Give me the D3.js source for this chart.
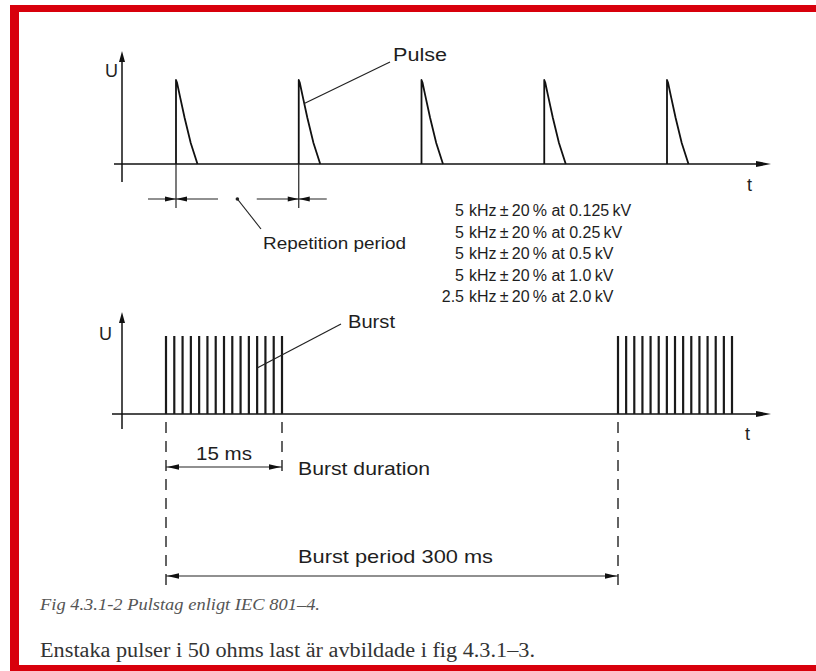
<!DOCTYPE html>
<html>
<head>
<meta charset="utf-8">
<script src="https://d3js.org/d3.v7.min.js"></script>
<style>
  body { margin: 0; background: #fff; }
  text { font-family: "Liberation Sans", Arial, sans-serif; fill: #1e1e1e; }
  .axis { stroke: #111; stroke-width: 1.5px; fill: none; }
  .pulse { stroke: #111; stroke-width: 1.8px; fill: none; stroke-linejoin: round; }
  .burst { stroke: #1a1a1a; stroke-width: 2.2px; }
  .thin { stroke: #222; stroke-width: 1.2px; fill: none; }
  .dash { stroke: #222; stroke-width: 1.4px; stroke-dasharray: 11 8; }
  .serif { font-family: "Liberation Serif", "Times New Roman", serif; }
</style>
</head>
<body>
<script>
// top diagram: pulse number and the shape of one pulse (fraction of period, relative amplitude)
var pulseIndex = [0, 1, 2, 3, 4];
var pulseShape = [[0, 0], [0, 1], [0.008, 0.97], [0.03, 0.82], [0.07, 0.55], [0.12, 0.25], [0.175, 0]];

// bottom diagram, in ms (drawn with a broken time axis)
var burstStarts = [0, 300];
var burstDuration = 15;
var burstPeriod = 300;
var burstPulseCount = 15;

// repetition frequency table
var freqKHz = ["5", "5", "5", "5", "2.5"];
var levelKV = ["0.125", "0.25", "0.5", "1.0", "2.0"];
var tolerance = 20;

var width = 816, height = 671;
var red = "#d8000c";

var svg = d3.select("body").append("svg")
    .attr("width", width)
    .attr("height", height);

// red frame (open on the right side, like the scan)
svg.append("rect").attr("x", 10).attr("y", 5).attr("width", 806).attr("height", 7).attr("fill", red);
svg.append("rect").attr("x", 10).attr("y", 5).attr("width", 9).attr("height", 666).attr("fill", red);
svg.append("rect").attr("x", 10).attr("y", 665).attr("width", 806).attr("height", 6).attr("fill", red);

function arrowHead(g, x, y, dir, len, w) {
    // dir: "up", "right", "left"
    var pts;
    if (dir === "up") pts = [[x, y], [x - w, y + len], [x + w, y + len]];
    else if (dir === "right") pts = [[x, y], [x - len, y - w], [x - len, y + w]];
    else pts = [[x, y], [x + len, y - w], [x + len, y + w]];
    g.append("polygon").attr("points", pts.join(" ")).attr("fill", "#111");
}

// label helper, the scanned lettering is wide so fit it to a width
function label(g, x, y, size, txt, len, anchor) {
    var t = g.append("text").attr("x", x).attr("y", y)
        .style("font-size", size + "px").text(txt);
    if (len) t.attr("textLength", len).attr("lengthAdjust", "spacingAndGlyphs");
    if (anchor) t.attr("text-anchor", anchor);
    return t;
}

// ---------------- top: single pulses ----------------
var x1 = d3.scaleLinear().domain([0, 4]).range([176, 667]);
var y1 = d3.scaleLinear().domain([0, 1]).range([164, 80]);
var topG = svg.append("g");

var origin1 = x1.invert(122);
topG.append("line").attr("class", "axis")
    .attr("x1", x1(origin1)).attr("x2", x1(origin1))
    .attr("y1", 182).attr("y2", 58);
arrowHead(topG, x1(origin1), 51, "up", 11, 3);
topG.append("line").attr("class", "axis")
    .attr("x1", 114).attr("x2", 758)
    .attr("y1", y1(0)).attr("y2", y1(0));
arrowHead(topG, 771, y1(0), "right", 15, 3);

var pulseLine = d3.line();
topG.selectAll("path.pulse")
    .data(pulseIndex)
    .enter().append("path")
    .attr("class", "pulse")
    .attr("d", function (i) {
        return pulseLine(pulseShape.map(function (p) { return [x1(i + p[0]), y1(p[1])]; }));
    });

label(topG, 105, 77, 18, "U");
label(topG, 747, 191, 18, "t");

// Pulse label and leader
label(topG, 393, 61, 18, "Pulse", 54);
topG.append("line").attr("class", "thin")
    .attr("x1", 390).attr("y1", 62).attr("x2", x1(1.045)).attr("y2", y1(0.72));

// repetition period dimension
var dimY = 199;
[0, 1].forEach(function (i) {
    var x = x1(i);
    topG.append("line").attr("class", "thin").attr("x1", x).attr("x2", x).attr("y1", y1(0)).attr("y2", 208);
    var inner = 42, outer = 28;
    var a = i === 0 ? x - outer : x - inner;
    var b = i === 0 ? x + inner : x + outer;
    topG.append("line").attr("class", "thin").attr("x1", a).attr("x2", b).attr("y1", dimY).attr("y2", dimY);
    arrowHead(topG, x, dimY, "right", 11, 2.6);
    arrowHead(topG, x, dimY, "left", 11, 2.6);
});
var dotX = x1(0.5);
topG.append("circle").attr("cx", dotX).attr("cy", dimY).attr("r", 1.8).attr("fill", "#222");
topG.append("line").attr("class", "thin")
    .attr("x1", dotX).attr("y1", dimY).attr("x2", 261).attr("y2", 229);
label(topG, 263, 249, 17, "Repetition period", 143);

// frequency table
var tableY = d3.scalePoint().domain(d3.range(freqKHz.length)).range([216, 302]);
var table = topG.append("g").style("font-size", "16px");
table.selectAll("text.num")
    .data(freqKHz)
    .enter().append("text")
    .attr("class", "num")
    .attr("x", 464)
    .attr("y", function (d, i) { return tableY(i); })
    .attr("text-anchor", "end")
    .text(function (d) { return d; });
table.selectAll("text.rest")
    .data(levelKV)
    .enter().append("text")
    .attr("class", "rest")
    .attr("x", 469)
    .attr("y", function (d, i) { return tableY(i); })
    .text(function (d) { return "kHz\u2009\u00b1\u2009" + tolerance + "\u2009% at " + d + "\u2009kV"; });

// ---------------- bottom: bursts ----------------
var x2 = d3.scaleLinear()
    .domain([0, burstDuration, burstPeriod, burstPeriod + burstDuration])
    .range([166, 282, 618, 732]);
var y2 = d3.scaleLinear().domain([0, 1]).range([414, 336]);
var bot = svg.append("g");

bot.append("line").attr("class", "axis")
    .attr("x1", 122).attr("x2", 122)
    .attr("y1", 429).attr("y2", 319);
arrowHead(bot, 122, 312, "up", 11, 3);
bot.append("line").attr("class", "axis")
    .attr("x1", 112).attr("x2", 758)
    .attr("y1", y2(0)).attr("y2", y2(0));
arrowHead(bot, 771, y2(0), "right", 15, 3);

var burstTimes = [];
burstStarts.forEach(function (s) {
    d3.range(burstPulseCount).forEach(function (k) {
        burstTimes.push(s + k * burstDuration / (burstPulseCount - 1));
    });
});
bot.selectAll("line.burst")
    .data(burstTimes)
    .enter().append("line")
    .attr("class", "burst")
    .attr("x1", function (d) { return x2(d); })
    .attr("x2", function (d) { return x2(d); })
    .attr("y1", y2(0))
    .attr("y2", y2(1));

label(bot, 99, 340, 18, "U");
label(bot, 745, 440, 18, "t");

label(bot, 348, 328, 19, "Burst", 47);
var leaderT = 11 * burstDuration / (burstPulseCount - 1);
bot.append("line").attr("class", "thin")
    .attr("x1", 341).attr("y1", 324).attr("x2", x2(leaderT)).attr("y2", y2(0.59));

// dashed extension lines
var ext = [[0, 592], [burstDuration, 472], [burstPeriod, 592]];
bot.selectAll("line.dash")
    .data(ext)
    .enter().append("line")
    .attr("class", "dash")
    .attr("x1", function (d) { return x2(d[0]); })
    .attr("x2", function (d) { return x2(d[0]); })
    .attr("y1", y2(0) + 8)
    .attr("y2", function (d) { return d[1]; });

function dimension(t0, t1, y) {
    bot.append("line").attr("class", "thin")
        .attr("x1", x2(t0)).attr("x2", x2(t1)).attr("y1", y).attr("y2", y);
    arrowHead(bot, x2(t0) + 1, y, "left", 12, 2.8);
    arrowHead(bot, x2(t1) - 1, y, "right", 12, 2.8);
}
dimension(0, burstDuration, 467);
dimension(0, burstPeriod, 576);

label(bot, x2(burstDuration / 2), 460, 19, burstDuration + " ms", 56, "middle");
label(bot, 298, 475, 19, "Burst duration", 132);
label(bot, 298, 563, 19, "Burst period " + burstPeriod + " ms", 195);

// captions
label(svg, 40, 610, 17, "Fig 4.3.1-2 Pulstag enligt IEC 801\u20134.", 280)
    .attr("class", "serif").style("font-style", "italic").style("fill", "#555");
label(svg, 40, 657, 20, "Enstaka pulser i 50 ohms last \u00e4r avbildade i fig 4.3.1\u20133.", 495)
    .attr("class", "serif").style("fill", "#333");
</script>
</body>
</html>
